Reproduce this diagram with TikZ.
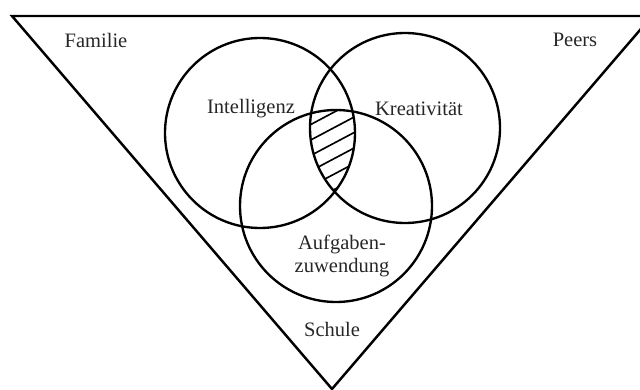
\documentclass[tikz,border=0pt]{standalone}
\usepackage{fontspec}
\setmainfont{Liberation Serif}
\usepackage{tikz}
\usetikzlibrary{calc,positioning}

\begin{document}
\begin{tikzpicture}[x=0.03cm,y=-0.03cm,
	label/.style={text=black!85,font=\fontsize{17.5}{19}\selectfont,align=center,inner sep=0pt},
	ring/.style={line width=2pt},
	hatch/.style={line width=1.4pt}]
	\clip (0,0) rectangle (640,390);
	% Umfeld
	\coordinate (famcorner) at (12,16);
	\coordinate (peercorner) at (652,16);
	\coordinate (apex) at (332,389);
	\draw[line width=2.1pt,line join=miter] (famcorner) -- (peercorner) -- (apex) -- cycle;
	% Merkmale
	\coordinate (intel) at (260,133);
	\coordinate (kreat) at (405,128);
	\coordinate (aufg) at (336,206);
	% Schnittmenge
	\begin{scope}
		\clip (intel) circle [radius=95];
		\clip (kreat) circle [radius=95];
		\clip (aufg) circle [radius=96];
		\foreach \k in {-2,...,6}
			\draw[hatch] (290,{151+15.5*\k}) -- ++(80,-42.4);
	\end{scope}
	\draw[ring] (intel) circle [radius=95];
	\draw[ring] (kreat) circle [radius=95];
	\draw[ring] (aufg) circle [radius=96];
	% Beschriftung
	\node[label] (familie) at (96,40) {Familie};
	\node[label] (peers) at (575,40) {Peers};
	\node[label] (intelligenz) at (251,109) {Intelligenz};
	\node[label] (kreativitaet) at (419,109) {Kreativität};
	\node[label] (aufgaben) at (342,256) {Aufgaben-\\zuwendung};
	\node[label] (schule) at (332,329) {Schule};
\end{tikzpicture}
\end{document}
